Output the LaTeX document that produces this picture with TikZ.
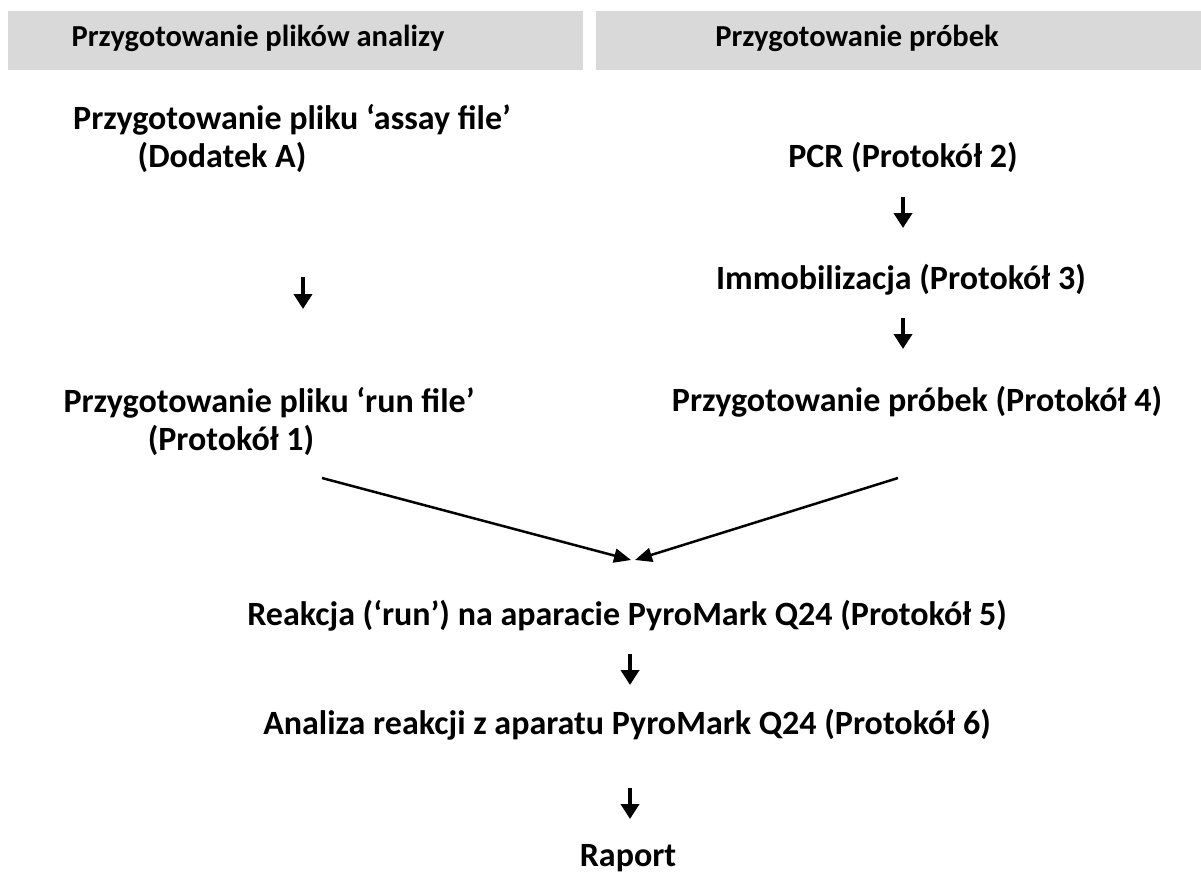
\documentclass[tikz,border=0pt]{standalone}
\usepackage{fontspec}
\setmainfont{Carlito}
\usetikzlibrary{arrows.meta}
\definecolor{hdrgray}{HTML}{D9D9D9}

\begin{document}
\begin{tikzpicture}[x = 1pt, y = -1pt, txt/.style = {font = \fontsize{34}{40}\selectfont\bfseries, inner sep = 0pt}, hdr/.style = {font = \fontsize{30.5}{36}\selectfont\bfseries, inner sep = 0pt}, down/.style = {-{Triangle[width = 18pt, length = 15pt]}, line width = 4pt}, merge/.style = {-{Triangle[width = 14pt, length = 17pt]}, line width = 2.5pt}]
					\useasboundingbox (0,0) rectangle (1201,875);
					\fill[hdrgray] (8,11) rectangle (583,70);
					\fill[hdrgray] (596,11) rectangle (1201,70);
					\node[hdr] (H1) at (258,38) {Przygotowanie plików analizy};
					\node[hdr] (H2) at (857,38) {Przygotowanie próbek};
					\node[txt] (A) at (292,120) {Przygotowanie pliku ‘assay file’};
					\node[txt] (A2) at (222,157) {(Dodatek A)};
					\node[txt] (R) at (269,403) {Przygotowanie pliku ‘run file’};
					\node[txt] (R2) at (231,440) {(Protokół 1)};
					\node[txt] (P) at (903,157) {PCR (Protokół 2)};
					\node[txt] (I) at (901,280) {Immobilizacja (Protokół 3)};
					\node[txt] (S) at (917,402) {Przygotowanie próbek (Protokół 4)};
					\node[txt] (Q) at (627,616) {Reakcja (‘run’) na aparacie PyroMark Q24 (Protokół 5)};
					\node[txt] (N) at (627,725) {Analiza reakcji z aparatu PyroMark Q24 (Protokół 6)};
					\node[txt] (W) at (628,858) {Raport};
					\coordinate (a1) at (303,277);
					\coordinate (b1) at (303,309);
					\coordinate (a2) at (903,197);
					\coordinate (b2) at (903,228);
					\coordinate (a3) at (903,318);
					\coordinate (b3) at (903,349);
					\coordinate (a4) at (630,654);
					\coordinate (b4) at (630,685);
					\coordinate (a5) at (630,788);
					\coordinate (b5) at (630,819);
					\coordinate (L) at (322,478);
					\coordinate (M) at (898,478);
					\coordinate (T1) at (631,560);
					\coordinate (T2) at (635,560);
					\draw[down] (a1) -- (b1);
					\draw[down] (a2) -- (b2);
					\draw[down] (a3) -- (b3);
					\draw[down] (a4) -- (b4);
					\draw[down] (a5) -- (b5);
					\draw[merge] (L) -- (T1);
					\draw[merge] (M) -- (T2);
				\end{tikzpicture}
\end{document}
